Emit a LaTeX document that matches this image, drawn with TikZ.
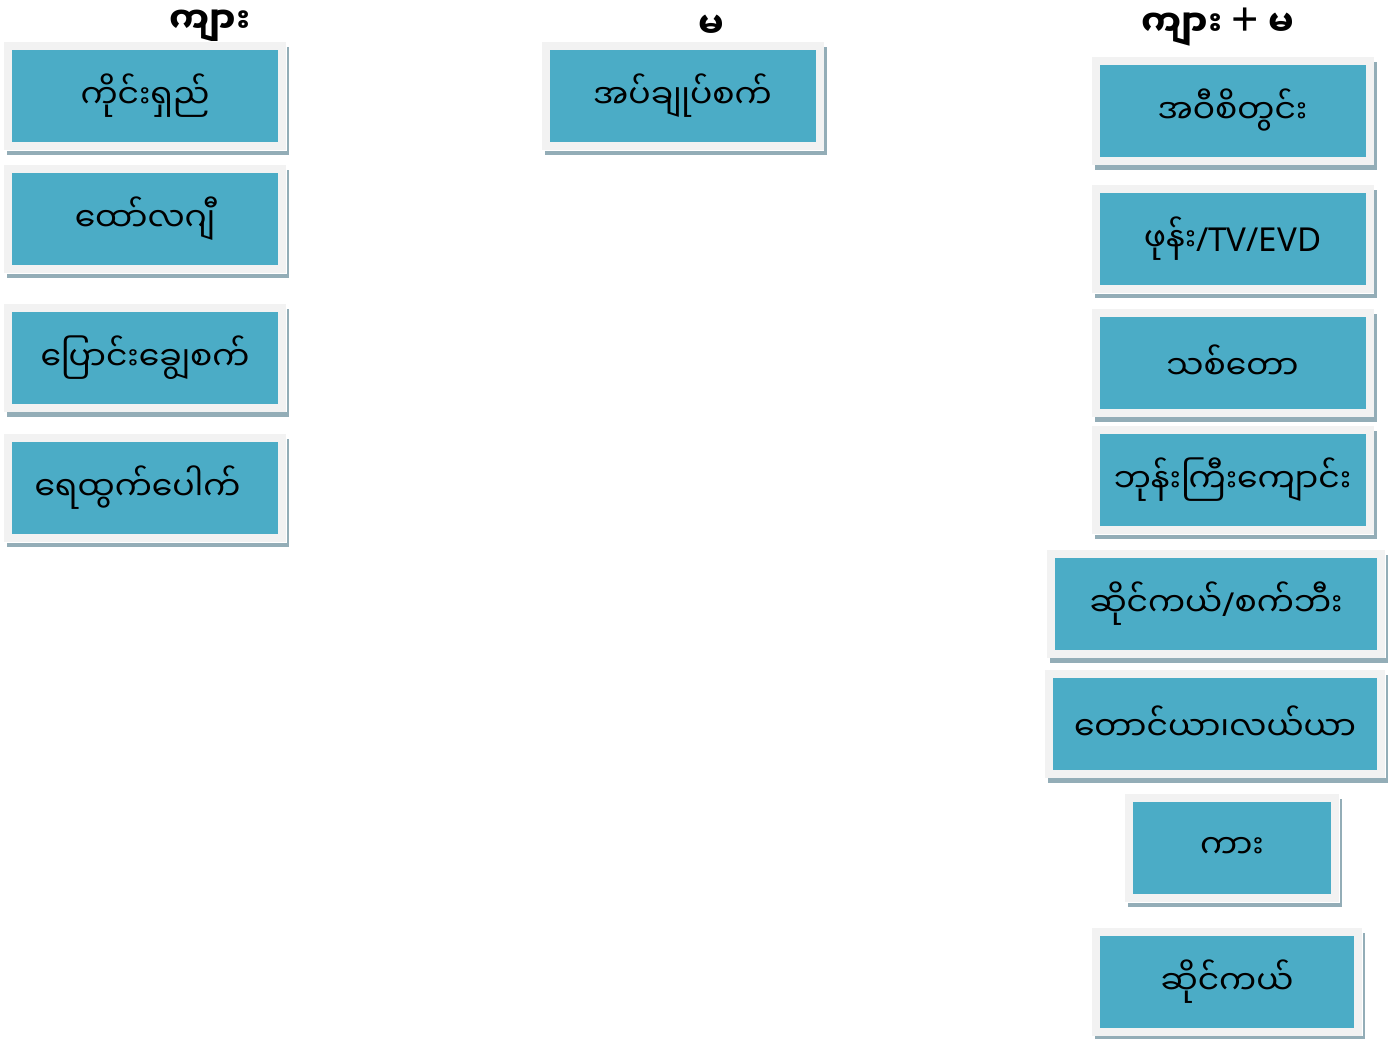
\documentclass[tikz,border=0pt]{standalone}
\usepackage{fontspec}
\newfontfamily\mmfont[Script=Myanmar]{Noto Sans Myanmar UI}
\newfontfamily\latfont{Noto Sans}
\definecolor{tileteal}{HTML}{4BACC6}
\definecolor{tileframe}{HTML}{F2F2F2}
\definecolor{tileshadow}{HTML}{93ADB7}
\begin{document}
\begin{tikzpicture}[x=0.5pt,y=-0.5pt,
    head/.style={font=\mmfont\bfseries\fontsize{18}{22}\selectfont},
    tile/.style={minimum width=137pt, minimum height=50pt, inner sep=0pt,
      fill=tileteal, draw=tileframe, line width=4pt,
      font=\mmfont\fontsize{16.5}{20}\selectfont,
      preaction={draw=tileshadow, fill=tileshadow, line width=4pt,
        transform canvas={xshift=1.5pt, yshift=-2.5pt}},
      preaction={draw=white, line width=4.8pt}}]
  \useasboundingbox (0,0) rectangle (1393,1039);
  % column headings
  \node[head] (hmale) at (210,27) {ကျား};
  \node[head] (hfemale) at (711,27) {မ};
  \node[head] (hboth) at (1218,27) {ကျား {\latfont\bfseries\fontsize{24}{24}\selectfont +} မ};
  % left column
  \node[tile] (m1) at (145,96) {ကိုင်းရှည်};
  \node[tile] (m2) at (145,219) {ထော်လဂျီ};
  \node[tile] (m3) at (145,357.5) {ပြောင်းချွေစက်};
  \node[tile] (m4) at (145,488) {ရေထွက်ပေါက်\hspace*{7.5pt}};
  % middle column
  \node[tile] (f1) at (682.5,96) {အပ်ချုပ်စက်};
  % right column
  \node[tile] (b1) at (1232.5,110.5) {အဝီစိတွင်း};
  \node[tile] (b2) at (1232.5,239) {ဖုန်း{\latfont /TV/EVD}};
  \node[tile] (b3) at (1232.5,362.5) {သစ်တော};
  \node[tile] (b4) at (1232.5,480) {ဘုန်းကြီးကျောင်း};
  \node[tile, minimum width=165pt] (b5) at (1216,603.5) {ဆိုင်ကယ်{\latfont /}စက်ဘီး};
  \node[tile, minimum width=166pt] (b6) at (1215,723.5) {တောင်ယာ၊လယ်ယာ};
  \node[tile, minimum width=103pt] (b7) at (1232,848) {ကား};
  \node[tile, minimum width=131pt] (b8) at (1227,981.5) {ဆိုင်ကယ်};
\end{tikzpicture}
\end{document}
